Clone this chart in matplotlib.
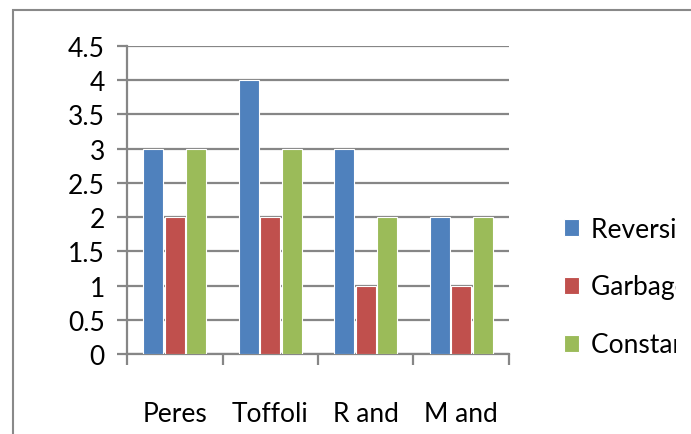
import matplotlib.pyplot as plt
import numpy as np
from matplotlib.patches import Rectangle
from matplotlib.transforms import Bbox, TransformedBbox

# Data
categories = ['Peres', 'Toffoli', 'R and', 'M and']
series_names = ['Reversible Gates', 'Garbage Outputs', 'Constant Inputs']
reversible = [3, 4, 3, 2]
garbage = [2, 2, 1, 1]
constant = [3, 3, 2, 2]
colors = ['#4F81BD', '#C0504D', '#9BBB59']

plt.rcParams['font.family'] = ['Lato', 'DejaVu Sans']

W, H = 691, 435
fig = plt.figure(figsize=(W / 100, H / 100), dpi=100)

# outer chart border (runs off the right and bottom edges)
fig.patches.append(Rectangle((13 / W, -0.1), 1.2, 1 - 11 / H + 0.1, transform=fig.transFigure,
                             fill=False, edgecolor='#898989', linewidth=1.5))

ax = fig.add_axes([127 / W, (H - 355) / H, (509 - 127) / W, (355 - 47) / H])

x = np.arange(len(categories)) + 0.5
width = 0.21
offsets = [-0.225, 0, 0.225]
for vals, off, c, name in zip([reversible, garbage, constant], offsets, colors, series_names):
    ax.bar(x + off, vals, width, color=c, edgecolor='white', linewidth=0.8, label=name, zorder=3)

ax.set_xlim(0, 4)
ax.set_ylim(0, 4.5)
ax.set_yticks(np.arange(0, 4.51, 0.5))
ax.set_yticklabels(['0', '0.5', '1', '1.5', '2', '2.5', '3', '3.5', '4', '4.5'], fontsize=19)
ax.grid(axis='y', color='#868686', linewidth=1.6, zorder=0)

ax.set_xticks(np.arange(0, 4.01, 1))
ax.set_xticklabels([])
ax.set_xticks(x, minor=True)
ax.set_xticklabels(categories, minor=True, fontsize=19)
ax.tick_params(axis='x', which='minor', length=0, pad=34)
ax.tick_params(axis='x', which='major', direction='out', length=8, width=1.6, color='#868686')
ax.tick_params(axis='y', direction='out', length=7, width=1.6, color='#868686', pad=9)

for s in ['top', 'right']:
    ax.spines[s].set_visible(False)
for s in ['left', 'bottom']:
    ax.spines[s].set_color('#868686')
    ax.spines[s].set_linewidth(1.6)

leg = fig.legend(loc='center left', bbox_to_anchor=(553 / W, (H - 288) / H), frameon=False,
                 fontsize=19, handlelength=0.6, handleheight=0.6, handletextpad=0.45,
                 labelspacing=1.25, borderaxespad=0)

# the legend is cut off by the plot area edge, as in the original
clip = TransformedBbox(Bbox([[0, 0], [676 / W, 1]]), fig.transFigure)
for t in leg.get_texts():
    t.set_clip_box(clip)
    t.set_clip_on(True)

plt.savefig('out.png', dpi=100)
